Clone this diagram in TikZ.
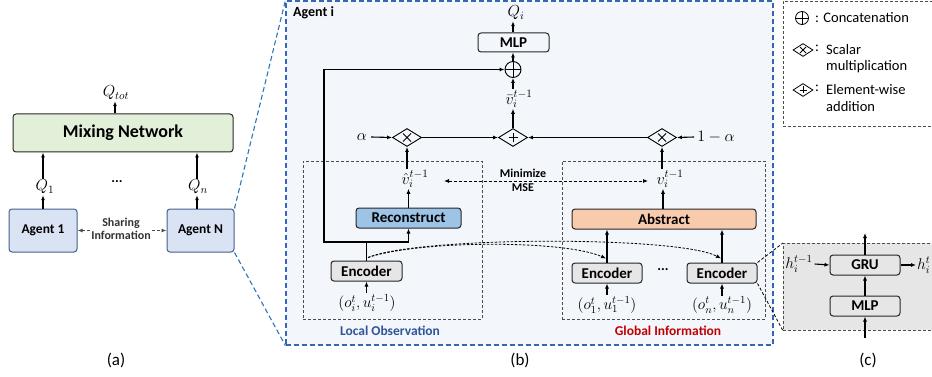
\RequirePackage{fix-cm}
\documentclass[tikz,border=0pt]{standalone}
\usepackage{fontspec}
\setmainfont{Carlito}
\usetikzlibrary{arrows.meta,shapes.geometric,calc}
\definecolor{mixg}{HTML}{E2F0D9}
\definecolor{agfill}{HTML}{DAE3F3}
\definecolor{agdraw}{HTML}{41608F}
\definecolor{bgb}{HTML}{F3F6FB}
\definecolor{bdash}{HTML}{3565B5}
\definecolor{zline}{HTML}{2E75B6}
\definecolor{reconc}{HTML}{9DC3E6}
\definecolor{abstc}{HTML}{F8CBAD}
\definecolor{encf}{HTML}{E7E6E6}
\definecolor{gboxf}{HTML}{E6E6E6}
\definecolor{locb}{HTML}{2F5597}
\definecolor{globr}{HTML}{C00000}
\definecolor{dk}{HTML}{262626}
\begin{document}
\begin{tikzpicture}[x=1pt,y=-1pt,
 >={Latex[length=5pt,width=4pt]},
 box/.style={draw=dk,line width=1pt,rounded corners=3pt,inner sep=0pt,font=\fontsize{15}{16}\selectfont\bfseries},
 arr/.style={->,line width=1.1pt},
 ln/.style={line width=1.1pt},
 grayd/.style={draw=black!70,dash pattern=on 3pt off 2pt,line width=0.8pt,inner sep=0pt},
 mth/.style={inner sep=1pt,font=\fontsize{16}{18}\selectfont},
 mths/.style={inner sep=1pt,font=\fontsize{15.5}{17}\selectfont},
 dmd/.style={diamond,draw=black,line width=0.9pt,minimum width=29pt,minimum height=18pt,inner sep=0pt},
 dmds/.style={diamond,draw=black,line width=0.8pt,minimum width=20pt,minimum height=13pt,inner sep=0pt},
 sym/.style={line width=0.9pt},
 leg/.style={anchor=west,inner sep=0pt,font=\fontsize{14.5}{16}\selectfont},
 capt/.style={font=\fontsize{17}{18}\selectfont}
]
\useasboundingbox (0,0) rectangle (932,377);

% ---------------- (a) ----------------
\node[box,fill=mixg,minimum width=220pt,minimum height=38pt,font=\fontsize{18}{20}\selectfont\bfseries] (mix) at (123,133) {Mixing Network};
\node[box,fill=agfill,draw=agdraw,minimum width=68pt,minimum height=43pt,font=\fontsize{13.5}{15}\selectfont\bfseries] (ag1) at (43,230.5) {Agent 1};
\node[box,fill=agfill,draw=agdraw,minimum width=67pt,minimum height=43pt,font=\fontsize{13.5}{15}\selectfont\bfseries] (agN) at (200.5,230.5) {Agent N};
\node[mth] (qtot) at (116,93) {$Q_{tot}$};
\node[mth] (q1) at (45,187) {$Q_1$};
\node[mth] (qn) at (198,187) {$Q_n$};
\node[font=\fontsize{14}{16}\selectfont\bfseries] (dotsa) at (117,182) {...};
\coordinate (xa1) at (43,0);
\coordinate (xaN) at (197,0);
\coordinate (xqt) at (115,0);
\draw[arr] (xqt |- mix.north) -- (xqt |- qtot.south);
\draw[arr] (xa1 |- ag1.north) -- (xa1 |- q1.south);
\draw[arr] (xa1 |- q1.north) -- (xa1 |- mix.south);
\draw[arr] (xaN |- agN.north) -- (xaN |- qn.south);
\draw[arr] (xaN |- qn.north) -- (xaN |- mix.south);
\draw[<->,line width=0.9pt,draw=black!70,dash pattern=on 3pt off 2pt] (ag1.east) -- (agN.west);
\node[fill=white,inner sep=1pt,align=center,font=\fontsize{12}{13}\selectfont\bfseries,text=black!80] (share) at (121,229) {Sharing\\Information};

% ---------------- (b) ----------------
\node[draw=bdash,fill=bgb,dash pattern=on 5pt off 3pt,line width=1.2pt,minimum width=487pt,minimum height=344pt,inner sep=0pt] (agi) at (529.5,173) {};
\draw[zline,line width=1.1pt,dash pattern=on 5pt off 3pt] (agN.north east) -- (agi.north west);
\draw[zline,line width=1.1pt,dash pattern=on 5pt off 3pt] (agN.south east) -- (agi.south west);
\node[anchor=west,inner sep=0pt,font=\fontsize{14}{16}\selectfont\bfseries] (agt) at (293,13) {Agent i};

\node[grayd,minimum width=179pt,minimum height=158pt] (locbox) at (392.5,240) {};
\node[grayd,minimum width=203pt,minimum height=158pt] (globbox) at (663.5,240) {};
\node[font=\fontsize{13.5}{15}\selectfont\bfseries,text=locb] (lobs) at (390,331) {Local Observation};
\node[font=\fontsize{13.5}{15}\selectfont\bfseries,text=globr] (ginf) at (668,331) {Global Information};

\node[box,minimum width=71pt,minimum height=19pt] (mlp) at (513.5,42.5) {MLP};
\node[mth] (qi) at (516,13) {$Q_i$};
\node[circle,draw,line width=0.9pt,minimum size=16pt,inner sep=0pt] (cat) at (513,69.5) {};
\draw[sym] (cat.north) -- (cat.south) (cat.west) -- (cat.east);
\node[mth] (vbar) at (519,99) {$\bar{v}_i^{t-1}$};
\node[dmd] (cd) at (513,137.5) {};
\draw[sym] ($(cd.center)+(-4.5,0)$) -- ($(cd.center)+(4.5,0)$) ($(cd.center)+(0,-4.5)$) -- ($(cd.center)+(0,4.5)$);
\node[dmd] (ld) at (407,137.5) {};
\draw[sym] ($(ld.center)+(-4,-4)$) -- ($(ld.center)+(4,4)$) ($(ld.center)+(-4,4)$) -- ($(ld.center)+(4,-4)$);
\node[dmd] (rd) at (662,137.5) {};
\draw[sym] ($(rd.center)+(-4,-4)$) -- ($(rd.center)+(4,4)$) ($(rd.center)+(-4,4)$) -- ($(rd.center)+(4,-4)$);
\node[mth] (al) at (362,137) {$\alpha$};
\node[mth] (oma) at (716,137) {$1-\alpha$};

\draw[arr] (cat.north |- mlp.north) -- (cat.north |- qi.south);
\draw[arr] (cat.north) -- (cat.north |- mlp.south);
\draw[arr] (cat.south |- vbar.north) -- (cat.south);
\draw[arr] (cd.north) -- (cd.north |- vbar.south);
\draw[arr] ($(al.east)+(3,0)$) -- (ld.west);
\draw[arr] ($(oma.west)+(-2,0)$) -- (rd.east);
\draw[arr] (ld.east) -- (cd.west);
\draw[arr] (rd.west) -- (cd.east);

\node[box,fill=reconc,minimum width=105pt,minimum height=20pt] (recon) at (408.5,218) {Reconstruct};
\node[box,fill=abstc,minimum width=184pt,minimum height=20pt] (abst) at (664,219) {Abstract};
\node[box,fill=encf,minimum width=71pt,minimum height=20pt] (encL) at (366.5,271) {Encoder};
\node[box,fill=encf,minimum width=70pt,minimum height=20pt] (enc1) at (607,273) {Encoder};
\node[box,fill=encf,minimum width=70pt,minimum height=20pt] (encN) at (722,273) {Encoder};
\node[font=\fontsize{14}{16}\selectfont\bfseries] (dotsb) at (663,270) {...};

\node[mth] (vhat) at (415,179) {$\hat{v}_i^{t-1}$};
\node[mth] (vv) at (670,179) {$v_i^{t-1}$};
\coordinate (vx) at (663,0);
\draw[arr] (recon.north) -- (recon.north |- vhat.south);
\draw[arr] (ld.south |- vhat.north) -- (ld.south);
\draw[arr] (vx |- abst.north) -- (vx |- vv.south);
\draw[arr] (rd.south |- vv.north) -- (rd.south);

\coordinate (m1) at (444,181);
\coordinate (m2) at (648,181);
\draw[<->,line width=0.8pt,dash pattern=on 3pt off 2pt] (m1) -- (m2);
\node[align=center,inner sep=0pt,font=\fontsize{12}{14}\selectfont\bfseries] (mse) at (523,180) {Minimize\\MSE};

\node[mths] (inL) at (367,303) {$(o_i^t,u_i^{t-1})$};
\node[mths] (in1) at (607,305) {$(o_1^t,u_1^{t-1})$};
\node[mths] (inN) at (722,305) {$(o_n^t,u_n^{t-1})$};
\draw[arr] (encL.south |- inL.north) -- (encL.south);
\draw[arr] (enc1.south |- in1.north) -- (enc1.south);
\draw[arr] (encN.south |- inN.north) -- (encN.south);

\coordinate (lc) at (324,242);
\draw[ln] (encL.north) -- (encL.north |- lc);
\draw[arr] (encL.north |- lc) -- (lc) |- (cat.west);
\draw[arr] (encL.north |- lc) -| (recon.south);
\draw[arr] (enc1.north) -- (enc1.north |- abst.south);
\draw[arr] (encN.north) -- (encN.north |- abst.south);

\coordinate (cs) at ($(encL.north)+(1.5,-3)$);
\draw[->,line width=0.8pt,dash pattern=on 2.5pt off 1.5pt] (cs) .. controls (420,240) and (565,240) .. ($(enc1.north)+(-1,-4)$);
\draw[->,line width=0.8pt,dash pattern=on 2.5pt off 1.5pt] (cs) .. controls (420,236) and (680,236) .. ($(encN.north)+(-1,-4)$);

% ---------------- (c) ----------------
\node[grayd,fill=gboxf,minimum width=170pt,minimum height=87pt,anchor=north west] (cbox) at (783,243) {};
\draw[line width=0.8pt,dash pattern=on 3pt off 2pt] (encN.north east) -- (cbox.north west);
\draw[line width=0.8pt,dash pattern=on 3pt off 2pt] (encN.south east) -- (cbox.south west);
\node[box,fill=gboxf,minimum width=70pt,minimum height=20pt] (gru) at (865,265) {GRU};
\node[box,fill=gboxf,minimum width=70pt,minimum height=20pt] (mlp2) at (865,306) {MLP};
\coordinate (cin) at (865,338);
\coordinate (cout) at (865,233);
\draw[arr] (cin) -- (mlp2.south);
\draw[arr] (mlp2.north) -- (gru.south);
\draw[arr] (gru.north) -- (cout);
\node[mths] (hin) at (799,264) {$h_i^{t-1}$};
\draw[arr] ($(hin.east)+(1,0)$) -- (gru.west);
\node[mths,anchor=west] (hout) at (916,265) {$h_i^t$};
\draw[arr] (gru.east) -- (hout.west);

% ---------------- legend ----------------
\node[grayd,minimum width=170pt,minimum height=125pt,anchor=north west] (legbox) at (783,1) {};
\node[circle,draw,line width=0.8pt,minimum size=13pt,inner sep=0pt] (lcirc) at (802,18) {};
\draw[line width=0.8pt] (lcirc.north) -- (lcirc.south) (lcirc.west) -- (lcirc.east);
\node[leg] (lt1) at (815,18) {: Concatenation};
\node[dmds] (ld1) at (803,50) {};
\draw[line width=0.8pt] ($(ld1.center)+(-3,-3)$) -- ($(ld1.center)+(3,3)$) ($(ld1.center)+(-3,3)$) -- ($(ld1.center)+(3,-3)$);
\node[leg] (lc2) at (815,48) {:};
\node[leg] (lt2) at (826,50) {Scalar};
\node[leg] (lt3) at (826,67) {multiplication};
\node[dmds] (ld2) at (803,90) {};
\draw[line width=0.8pt] ($(ld2.center)+(-3.5,0)$) -- ($(ld2.center)+(3.5,0)$) ($(ld2.center)+(0,-3.5)$) -- ($(ld2.center)+(0,3.5)$);
\node[leg] (lc3) at (815,88) {:};
\node[leg] (lt4) at (826,90) {Element-wise};
\node[leg] (lt5) at (826,107) {addition};

% ---------------- captions ----------------
\node[capt] (capa) at (116,360) {(a)};
\node[capt] (capb) at (520,360) {(b)};
\node[capt] (capc) at (868,360) {(c)};
\end{tikzpicture}
\end{document}
